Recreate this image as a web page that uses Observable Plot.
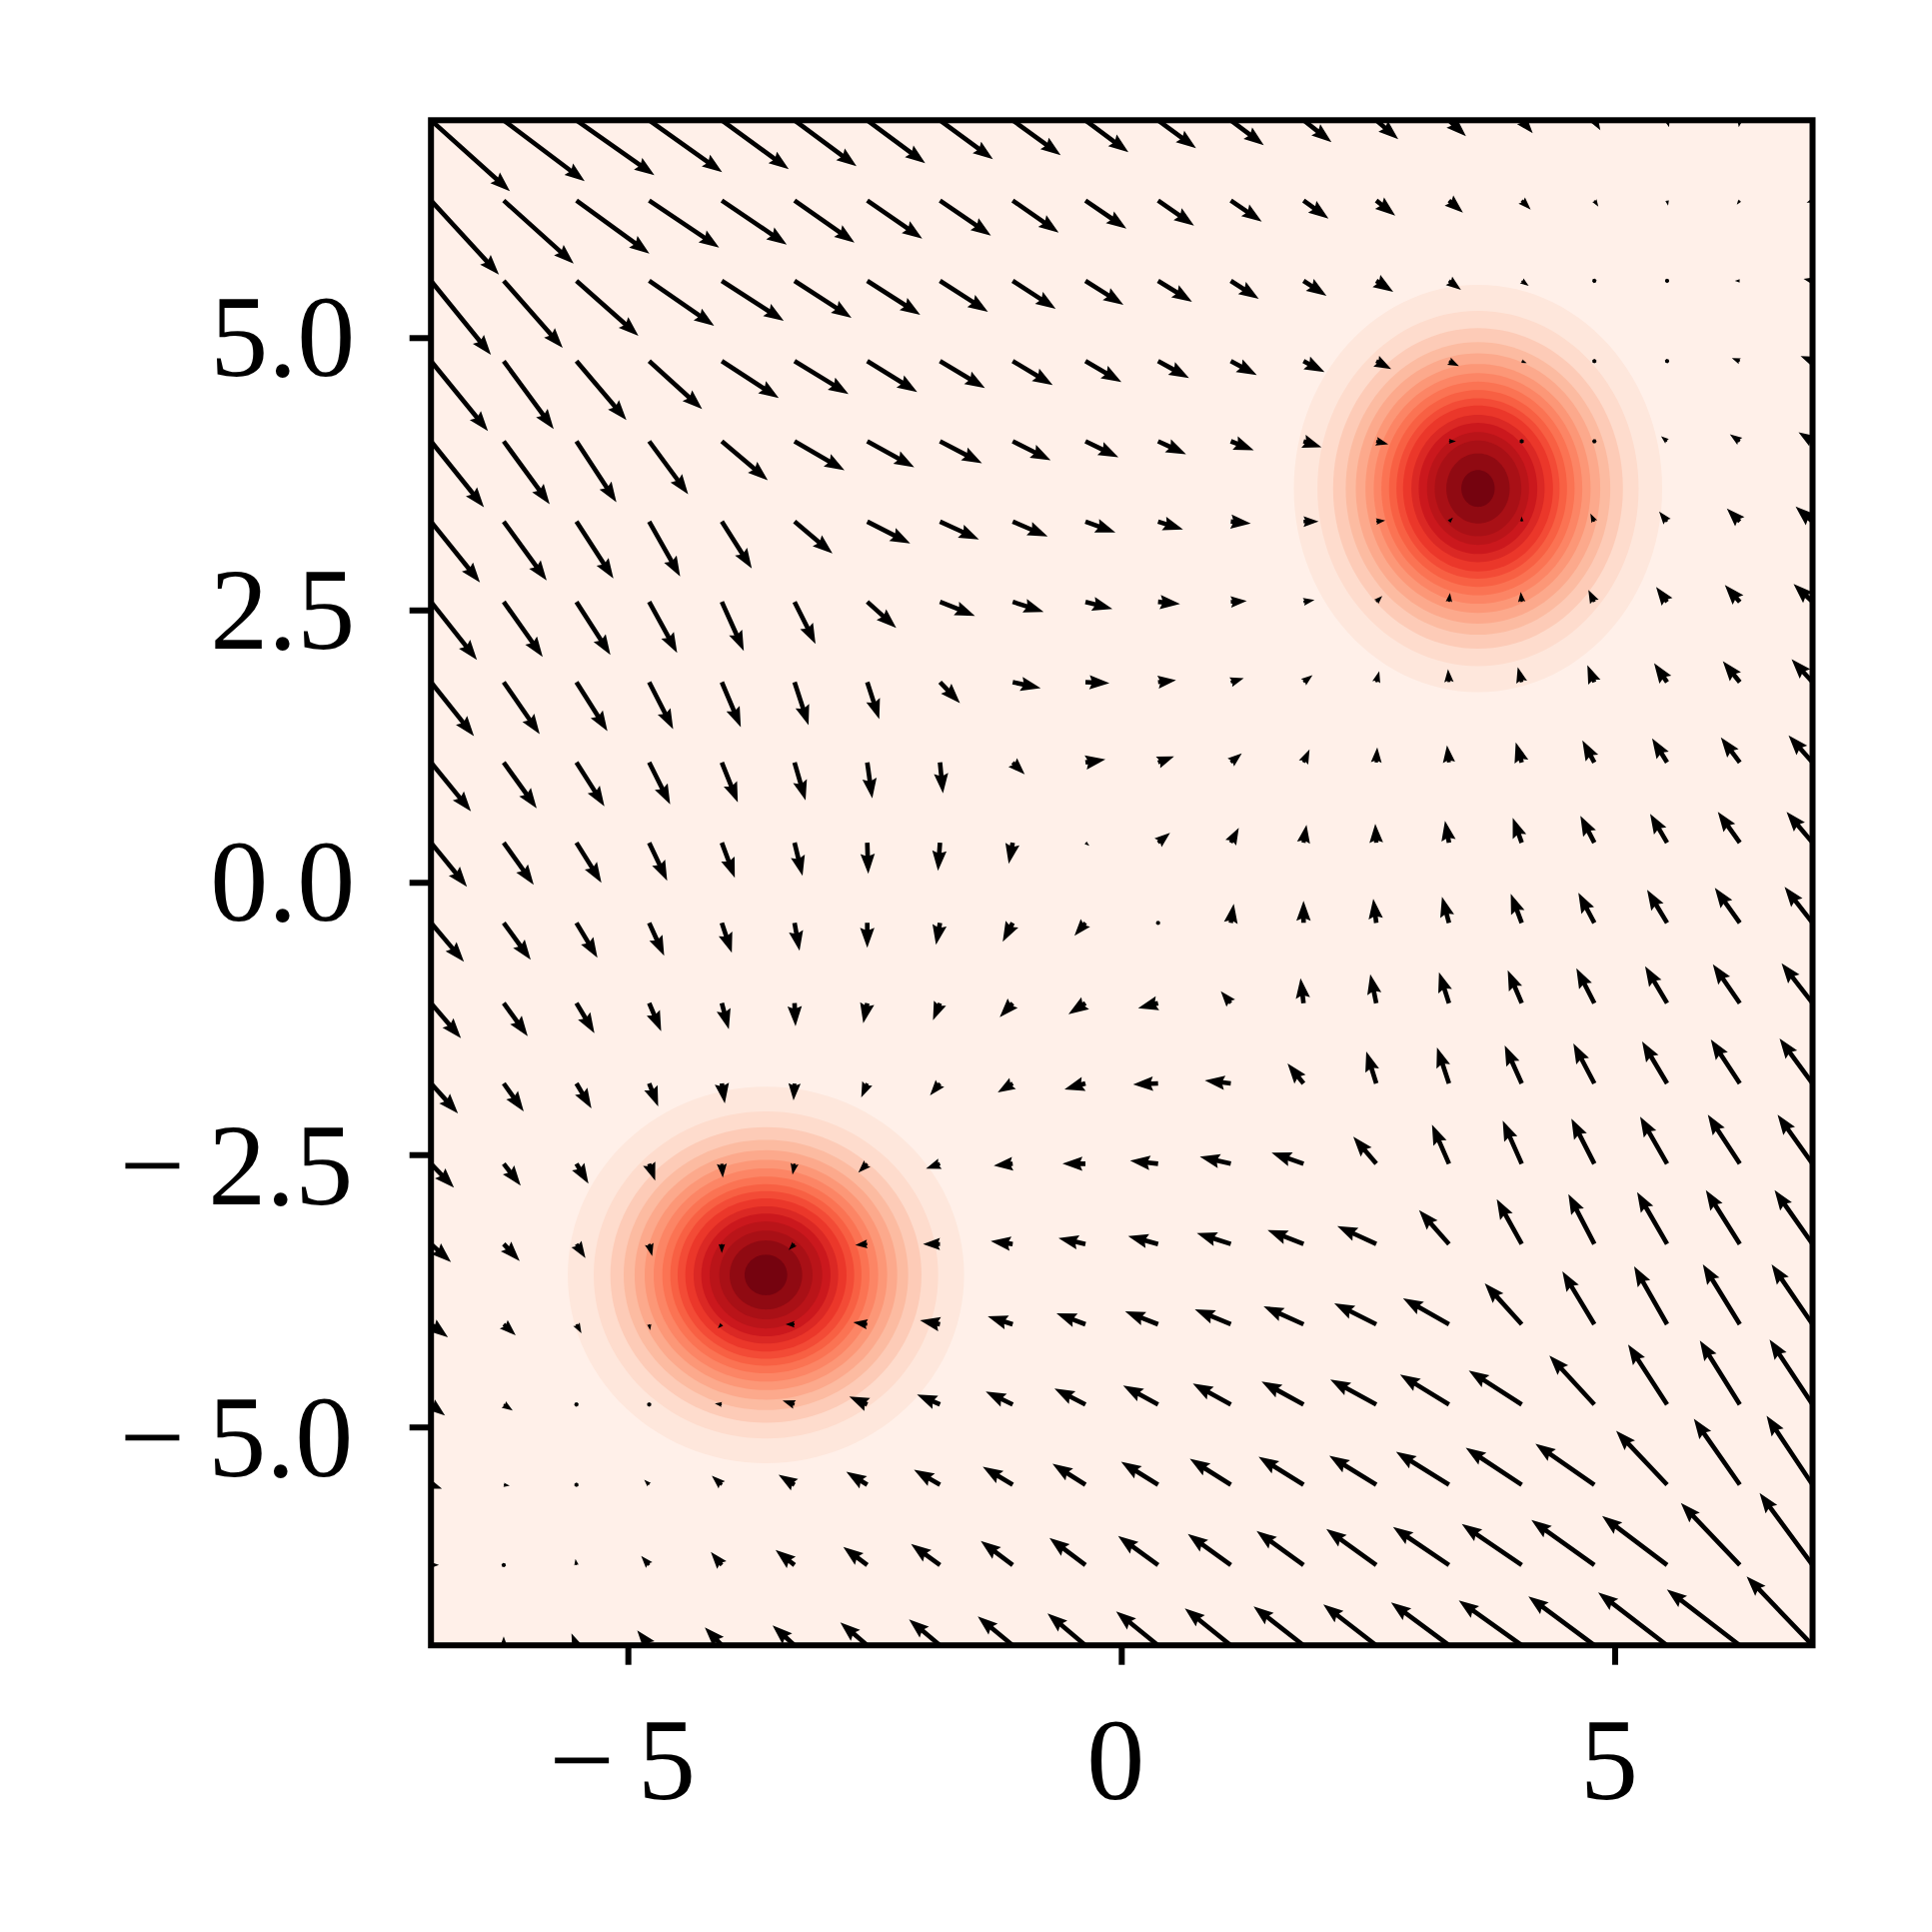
<!DOCTYPE html>
<html>
<head>
<meta charset="utf-8">
<script src="https://cdn.jsdelivr.net/npm/d3@7"></script>
<script src="https://cdn.jsdelivr.net/npm/@observablehq/plot@0.6"></script>
<style>html,body{margin:0;padding:0;background:#fff}svg{display:block}</style>
</head>
<body>
<div id="chart"></div>
<script>
// Grid of the arrow field, left to right and top to bottom
const gridX = [-7,-6.263,-5.526,-4.789,-4.053,-3.316,-2.579,-1.842,-1.105,-0.368,0.368,1.105,1.842,2.579,3.316,4.053,4.789,5.526,6.263,7];
const gridY = [7,6.263,5.526,4.789,4.053,3.316,2.579,1.842,1.105,0.368,-0.368,-1.105,-1.842,-2.579,-3.316,-4.053,-4.789,-5.526,-6.263,-7];

// Horizontal arrow component, one row per gridY value
const U = [
[79,81,78,73,67,62,58,53,48,43,38,33,28,22,17,11,6,2,-1,-2],
[68,70,73,70,65,60,55,51,46,41,36,31,25,19,14,9,4,1,-3,-6],
[60,59,62,65,62,57,53,48,43,38,34,28,23,17,12,7,3,0,-5,-9],
[57,50,50,53,57,54,50,45,40,36,31,26,21,15,10,5,0,-3,-8,-12],
[53,46,40,39,46,50,47,42,38,33,28,23,18,12,7,0,-1,-6,-10,-14],
[49,43,37,31,30,38,43,39,35,30,25,20,15,9,4,0,-4,-8,-13,-17],
[46,39,34,28,22,21,29,35,31,27,22,16,11,6,1,-1,-6,-11,-15,-19],
[43,36,31,24,19,14,12,20,28,24,18,13,9,3,-1,-4,-7,-13,-17,-21],
[40,33,28,21,16,11,5,3,12,20,16,11,6,1,-2,-6,-12,-15,-19,-24],
[36,30,25,18,13,8,1,-2,-4,4,12,8,3,-1,-4,-9,-14,-17,-22,-26],
[33,27,21,15,10,5,0,-4,-10,-11,-3,3,0,-3,-7,-11,-16,-20,-25,-28],
[30,24,18,12,7,1,-4,-7,-13,-17,-20,-10,-3,-6,-10,-14,-18,-22,-27,-31],
[27,20,15,9,3,-1,-6,-10,-15,-21,-25,-26,-16,-10,-12,-17,-21,-25,-29,-33],
[23,17,12,6,1,-2,-9,-14,-19,-23,-28,-31,-32,-23,-17,-19,-23,-27,-32,-35],
[20,16,9,3,0,-6,-12,-17,-22,-27,-30,-34,-36,-39,-30,-25,-26,-30,-34,-38],
[17,12,5,1,-4,-9,-14,-20,-25,-29,-33,-36,-40,-42,-46,-37,-32,-33,-37,-41],
[14,9,3,0,-7,-12,-18,-23,-27,-31,-35,-38,-42,-46,-49,-53,-45,-39,-40,-43],
[11,6,0,-5,-10,-16,-21,-26,-30,-33,-37,-41,-45,-47,-53,-56,-59,-51,-46,-46],
[8,3,-1,-8,-11,-19,-24,-29,-32,-36,-40,-43,-47,-50,-56,-60,-63,-65,-59,-53],
[2,0,-5,-12,-17,-22,-27,-31,-35,-38,-42,-46,-50,-53,-58,-63,-66,-69,-73,-66]
];

// Vertical arrow component (positive means down the page), one row per gridY value
const V = [
[71,61,55,52,49,46,43,39,35,32,28,25,22,19,16,13,10,7,7,5],
[74,63,53,47,44,42,38,35,32,28,25,21,18,15,12,9,6,5,4,2],
[74,67,55,45,40,37,34,31,28,24,21,18,15,11,9,5,3,0,0,-2],
[70,68,59,48,37,33,31,27,24,21,17,14,11,8,5,2,0,-1,-3,-5],
[66,63,61,53,39,29,26,22,19,16,13,9,6,3,0,0,-2,-5,-7,-9],
[61,59,57,55,47,32,22,18,15,11,8,2,0,-1,-4,-5,-8,-10,-13,-15],
[58,55,53,51,49,42,26,14,10,7,2,-1,-2,-6,-9,-10,-12,-15,-17,-18],
[54,52,49,47,45,43,37,21,6,1,-2,-4,-7,-11,-13,-15,-17,-19,-21,-23],
[49,46,44,42,40,38,36,31,12,-3,-6,-9,-13,-15,-17,-20,-22,-24,-25,-27],
[44,42,40,38,35,33,31,28,21,3,-10,-15,-18,-19,-22,-25,-27,-29,-31,-31],
[39,37,35,33,30,28,25,22,19,13,-3,-19,-22,-24,-26,-29,-30,-33,-35,-36],
[35,33,30,28,26,23,20,17,14,11,5,-12,-25,-29,-31,-33,-35,-37,-39,-40],
[30,28,25,23,20,17,14,12,9,6,1,-3,-20,-32,-36,-38,-40,-42,-44,-45],
[24,22,20,17,14,11,9,5,2,0,-3,-7,-11,-27,-39,-43,-45,-47,-49,-49],
[18,17,14,12,9,6,1,0,-3,-6,-8,-11,-14,-18,-34,-45,-50,-52,-54,-54],
[13,11,9,6,4,0,-2,-4,-8,-11,-13,-15,-18,-21,-26,-41,-53,-58,-60,-60],
[11,6,3,0,-1,-4,-8,-10,-13,-16,-19,-21,-23,-25,-30,-34,-49,-60,-64,-65],
[4,1,0,-5,-9,-10,-13,-15,-18,-21,-23,-26,-28,-29,-33,-37,-41,-54,-66,-69],
[0,-3,-6,-9,-13,-15,-18,-21,-24,-27,-29,-31,-34,-36,-38,-41,-45,-49,-62,-72],
[-5,-9,-12,-15,-18,-20,-23,-26,-29,-32,-34,-37,-39,-41,-43,-45,-49,-53,-56,-69]
];

// Filled density bands around the two modes, outermost first: horizontal radius in axis units
const upperRadii = [1.867,1.628,1.469,1.341,1.239,1.141,1.057,0.979,0.902,0.827,0.760,0.675,0.601,0.517,0.439,0.321,0.169];
const lowerRadii = [2.009,1.746,1.577,1.442,1.331,1.229,1.138,1.050,0.969,0.895,0.817,0.733,0.655,0.571,0.473,0.368,0.216];
const bandColors = ["#fee7dc","#fedccd","#fdcbb7","#fcbba1","#fca98c","#fc9777","#fc8565","#fb7353","#f86043","#f34b36","#eb372a","#db2824","#cb181d","#ba1419","#a91016","#900a12","#75030f"];
const baseColor = "#fff0e9";
const upperCenter = [3.61, 3.62];
const lowerCenter = [-3.606, -3.60];

// Ticks
const xTicks = [-5, 0, 5];
const xLabels = ["\u2212\u20095", "0", "5"];
const yTicks = [5, 2.5, 0, -2.5, -5];
const yLabels = ["5.0", "2.5", "0.0", "\u2212\u20092.5", "\u2212\u20095.0"];

const field = gridY.flatMap((y, j) => gridX.map((x, i) => ({x, y, u: U[j][i], v: V[j][i]})));

// Shape of the arrows: thin shaft, swept filled head, shrinking as a whole when short
const W = 4.6, HEAD = 20, AXIS = 18, HALF = 7.2;
const quiver = {
  draw(ctx, l) {
    const pts = (scale, len) => {
      const hl = HEAD * scale, ha = AXIS * scale, hw = HALF * scale, sw = 0.5 * W * scale;
      return [[0, sw], [len - ha, sw], [len - hl, hw], [len, 0], [len - hl, -hw], [len - ha, -sw], [0, -sw]];
    };
    let p;
    if (l < W) {
      p = d3.range(6).map(k => [W / 2 * Math.cos(k * Math.PI / 3), W / 2 * Math.sin(k * Math.PI / 3)]);
    } else if (l < HEAD) {
      p = pts(l / HEAD, l);
    } else {
      p = pts(1, l);
    }
    p.forEach(([a, b], k) => k ? ctx.lineTo(b, -a) : ctx.moveTo(b, -a));
    ctx.closePath();
  }
};

const ellipse = (aspect) => ({
  draw(ctx, size) {
    const r = Math.sqrt(size / Math.PI);
    const n = 120;
    for (let k = 0; k < n; ++k) {
      const t = 2 * Math.PI * k / n;
      const px = r * Math.cos(t), py = r * aspect * Math.sin(t);
      k ? ctx.lineTo(px, py) : ctx.moveTo(px, py);
    }
    ctx.closePath();
  }
});

const bands = (radii, center) => radii.map((r, k) => ({x: center[0], y: center[1], r, c: bandColors[k]}));

const labelFor = (ticks, labels) => (d) => labels[ticks.indexOf(d)];
const yPos = yTicks.filter(d => d >= 0), yNeg = yTicks.filter(d => d < 0);
const font = {fontSize: 116, tickSize: 0, label: null, stroke: "none"};

const chart = Plot.plot({
  width: 1933,
  height: 1933,
  marginLeft: 430.7,
  marginRight: 120,
  marginTop: 119.8,
  marginBottom: 287.3,
  style: {background: "#fff", fontFamily: "'Liberation Serif', serif", color: "#000"},
  x: {domain: [-7, 7], label: null},
  y: {domain: [-7, 7], label: null},
  r: {type: "linear", domain: [0, 1], range: [0, 98.7]},
  length: {type: "linear", domain: [0, 100], range: [0, 100]},
  color: {type: "identity"},
  marks: [
    Plot.frame({fill: baseColor, stroke: "none"}),
    Plot.dot(bands(upperRadii, upperCenter), {x: "x", y: "y", r: "r", fill: "c", stroke: "none", symbol: ellipse(1.106), sort: null}),
    Plot.dot(bands(lowerRadii, lowerCenter), {x: "x", y: "y", r: "r", fill: "c", stroke: "none", symbol: ellipse(0.95), sort: null}),
    Plot.vector(field, {
      x: "x", y: "y",
      length: d => Math.hypot(d.u, d.v),
      rotate: d => Math.atan2(d.u, -d.v) * 180 / Math.PI,
      anchor: "start",
      shape: quiver,
      fill: "#000",
      stroke: "none",
      clip: "frame"
    }),
    Plot.frame({stroke: "#000", strokeWidth: 6, fill: "none"}),
    Plot.axisX(xTicks, {anchor: "bottom", tickSize: 20, strokeWidth: 6, fill: "none", label: null}),
    Plot.axisY(yTicks, {anchor: "left", tickSize: 21, strokeWidth: 6, fill: "none", label: null}),
    Plot.axisX(xTicks, {...font, anchor: "bottom", tickPadding: 71, dx: -6, tickFormat: labelFor(xTicks, xLabels)}),
    Plot.axisY(yPos, {...font, anchor: "left", tickPadding: 76, dy: 1, tickFormat: labelFor(yTicks, yLabels)}),
    Plot.axisY(yNeg, {...font, anchor: "left", tickPadding: 78, dy: 12, tickFormat: labelFor(yTicks, yLabels)})
  ]
});
document.getElementById("chart").append(chart);
</script>
</body>
</html>
